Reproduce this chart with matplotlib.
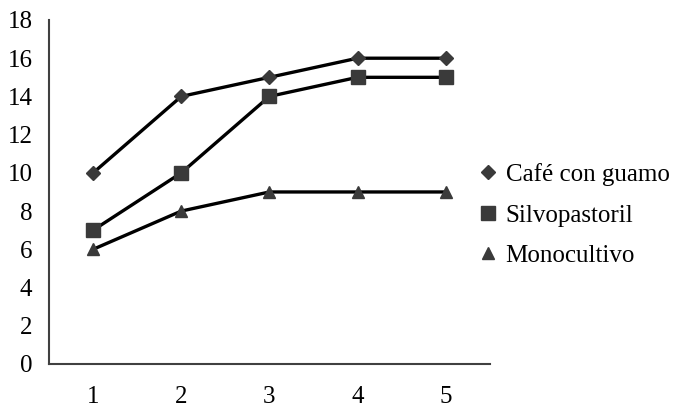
import matplotlib
matplotlib.use('Agg')
from matplotlib import pyplot as plt

plt.rcParams['font.family'] = ['Liberation Serif', 'DejaVu Serif']

x_vals = [1, 2, 3, 4, 5]
cafe = [10, 14, 15, 16, 16]
silvo = [7, 10, 14, 15, 15]
mono = [6, 8, 9, 9, 9]
labels = ['Café con guamo', 'Silvopastoril', 'Monocultivo']

fig = plt.figure(figsize=(6.82, 4.08), dpi=100)
ax = fig.add_axes([0.072, 0.108, 0.646, 0.843])

mk_col = '#3a3a3a'
ax.plot(x_vals, cafe, color='black', lw=2.4, marker='D', ms=7, mfc=mk_col, mec=mk_col)
ax.plot(x_vals, silvo, color='black', lw=2.4, marker='s', ms=10, mfc=mk_col, mec=mk_col)
ax.plot(x_vals, mono, color='black', lw=2.4, marker='^', ms=9, mfc=mk_col, mec=mk_col)

ax.set_xlim(0.5, 5.5)
ax.set_ylim(0, 18)
ax.set_yticks(range(0, 19, 2))
ax.set_xticks(x_vals)
ax.tick_params(axis='both', length=0, labelsize=18)
ax.tick_params(axis='y', pad=12)
ax.tick_params(axis='x', pad=16)
for s in ['top', 'right']:
    ax.spines[s].set_visible(False)
for s in ['left', 'bottom']:
    ax.spines[s].set_color('#404040')
    ax.spines[s].set_linewidth(1.5)

# legend shows markers only
leg_handles = [plt.Line2D([], [], ls='none', marker=m, ms=s, color=mk_col)
               for m, s in [('D', 7), ('s', 10), ('^', 9)]]
fig.legend(leg_handles, labels, loc='center left', bbox_to_anchor=(0.668, 0.473),
           frameon=False, fontsize=18, handlelength=0.8, handletextpad=0.3,
           labelspacing=0.72)

plt.savefig('out.png', dpi=100)
